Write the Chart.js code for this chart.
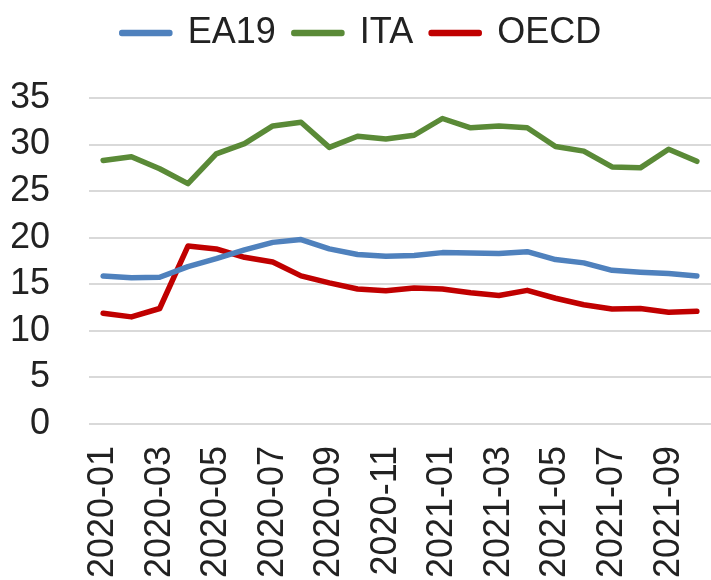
<!DOCTYPE html>
<html>
<head>
<meta charset="utf-8">
<script src="https://cdn.jsdelivr.net/npm/chart.js@4/dist/chart.umd.min.js"></script>
<style>
  html, body { margin: 0; padding: 0; background: #fff; }
  #wrap { width: 711px; height: 580px; }
</style>
</head>
<body>
<div id="wrap"><canvas id="chart_1"></canvas></div>
<script>
const months = ['2020-01', '2020-02', '2020-03', '2020-04', '2020-05', '2020-06', '2020-07', '2020-08',
    '2020-09', '2020-10', '2020-11', '2020-12', '2021-01', '2021-02', '2021-03', '2021-04',
    '2021-05', '2021-06', '2021-07', '2021-08', '2021-09', '2021-10'];
const ea19 = [15.9, 15.7, 15.75, 16.9, 17.75, 18.7, 19.5, 19.8, 18.8, 18.2, 18.0, 18.1,
    18.4, 18.35, 18.3, 18.5, 17.65, 17.3, 16.5, 16.3, 16.15, 15.9];
const ita = [28.3, 28.7, 27.4, 25.8, 29.0, 30.1, 32.0, 32.4, 29.7, 30.9, 30.6, 31.0,
    32.8, 31.8, 32.0, 31.8, 29.8, 29.3, 27.6, 27.5, 29.5, 28.2];
const oecd = [11.9, 11.5, 12.4, 19.1, 18.8, 17.9, 17.4, 15.9, 15.15, 14.5, 14.3, 14.6,
    14.5, 14.1, 13.8, 14.35, 13.5, 12.8, 12.35, 12.4, 12.0, 12.1];
const yTicks = [0, 5, 10, 15, 20, 25, 30, 35];

Chart.defaults.font.family = "'Liberation Sans', Arial, sans-serif";
Chart.defaults.color = '#222222';

// extra room under the legend
const legendSpace = {
    id: 'legendSpace',
    beforeInit(chart) {
        const fit = chart.legend.fit;
        chart.legend.fit = function () {
            fit.bind(chart.legend)();
            this.height += 37;
        };
    }
};

const ctx1 = document.getElementById('chart_1').getContext('2d');
const myChart1 = new Chart(ctx1, {
    type: 'line',
    data: {
        labels: months,
        datasets: [
            { label: 'EA19', data: ea19, borderColor: '#4f81bd', backgroundColor: '#4f81bd' },
            { label: 'ITA', data: ita, borderColor: '#5a8a37', backgroundColor: '#5a8a37' },
            { label: 'OECD', data: oecd, borderColor: '#c00000', backgroundColor: '#c00000' }
        ]
    },
    options: {
        responsive: true,
        maintainAspectRatio: false,
        animation: false,
        elements: {
            line: { borderWidth: 5.5, tension: 0, borderCapStyle: 'round', borderJoinStyle: 'round' },
            point: { radius: 0, hoverRadius: 0 }
        },
        layout: { padding: { left: 12, right: 0, top: -3, bottom: 0 } },
        plugins: {
            legend: {
                position: 'top',
                labels: {
                    font: { size: 36 },
                    boxWidth: 48,
                    boxHeight: 1,
                    padding: 18
                }
            },
            tooltip: { enabled: false }
        },
        scales: {
            x: {
                offset: true,
                grid: { display: false, drawTicks: false },
                border: { display: false },
                ticks: {
                    autoSkip: false,
                    minRotation: 90,
                    maxRotation: 90,
                    padding: 22,
                    font: { size: 36 },
                    callback: function (value, index) {
                        return index % 2 === 0 ? months[index] : '';
                    }
                },
                afterFit: function (axis) {
                    axis.paddingLeft = 0;
                    axis.paddingRight = 0;
                    axis.height = 156;
                }
            },
            y: {
                min: yTicks[0],
                max: yTicks[yTicks.length - 1],
                afterBuildTicks: function (axis) {
                    axis.ticks = yTicks.map(v => ({ value: v }));
                },
                afterFit: function (axis) {
                    axis.width = 77;
                },
                grid: { color: '#d9d9d9', lineWidth: 2, drawTicks: false },
                border: { display: false },
                ticks: {
                    autoSkip: false,
                    padding: 39,
                    font: { size: 36 }
                }
            }
        }
    },
    plugins: [legendSpace]
});
</script>
</body>
</html>
